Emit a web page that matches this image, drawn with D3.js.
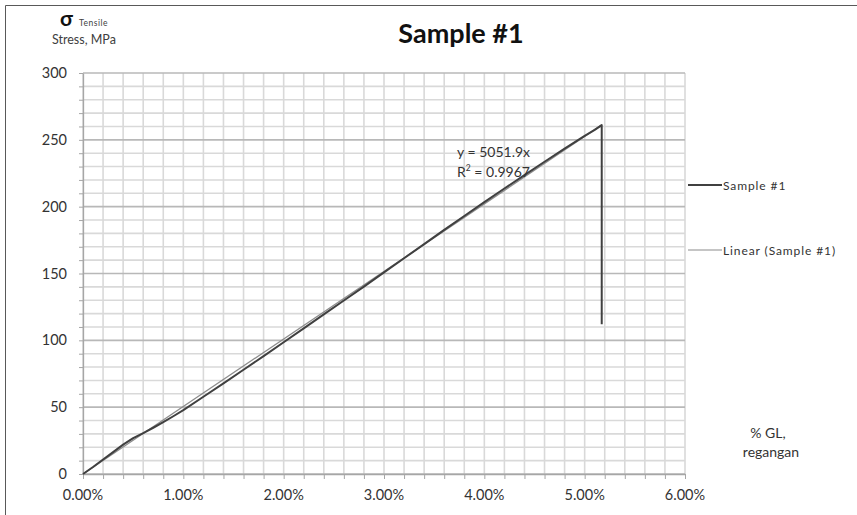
<!DOCTYPE html>
<html>
<head>
<meta charset="utf-8">
<script src="https://cdn.jsdelivr.net/npm/d3@7"></script>
<style>
  html, body { margin: 0; padding: 0; background: #fff; }
  svg { display: block; font-family: Lato, "Open Sans", sans-serif; }
</style>
</head>
<body>
<svg id="chart" width="857" height="515"></svg>
<script>
// Tensile test, sample #1: strain (fraction of gauge length) vs stress (MPa)
const strain = [0, 0.001, 0.002, 0.003, 0.004, 0.005, 0.006, 0.007, 0.008, 0.009, 0.010,
  0.012, 0.014, 0.016, 0.018, 0.020, 0.022, 0.024, 0.026, 0.028, 0.030, 0.032, 0.034,
  0.036, 0.038, 0.040, 0.042, 0.044, 0.046, 0.048, 0.050, 0.051, 0.0517, 0.0517];
const stress = [0, 5.2, 10.8, 16.4, 22, 26.8, 30.6, 34.6, 38.8, 43.2, 47.8,
  57.8, 67.8, 78, 88.2, 98.6, 109, 119.4, 129.8, 140.2, 150.8, 161.4, 172,
  182.6, 193, 203.4, 213.6, 223.6, 233.6, 243.4, 253, 257.4, 261, 112];

// Linear trendline through the origin
const trendSlope = 5051.9;
const trendR2 = 0.9967;

const xTicks = [0, 0.01, 0.02, 0.03, 0.04, 0.05, 0.06];
const yTicks = [0, 50, 100, 150, 200, 250, 300];
const xMinor = d3.range(0, 0.0601, 0.002);
const yMinor = d3.range(0, 301, 10);

const seriesName = "Sample #1";
const trendName = "Linear (Sample #1)";

const svg = d3.select("#chart");
const x = d3.scaleLinear().domain([0, 0.06]).range([83, 685]);
const y = d3.scaleLinear().domain([0, 300]).range([474, 73]);

// chart frame (left and top edges)
svg.append("path")
  .attr("d", "M5.5,515 L5.5,5.5 L857,5.5")
  .attr("fill", "none").attr("stroke", "#595959").attr("stroke-width", 1);

// minor grid
const grid = svg.append("g");
grid.selectAll("line.vx").data(xMinor).join("line")
  .attr("x1", d => x(d)).attr("x2", d => x(d))
  .attr("y1", y(0)).attr("y2", y(300))
  .attr("stroke", "#d9d9d9").attr("stroke-width", 1.6);
grid.selectAll("line.hy").data(yMinor.filter(v => v % 50 !== 0)).join("line")
  .attr("x1", x(0)).attr("x2", x(0.06))
  .attr("y1", d => y(d)).attr("y2", d => y(d))
  .attr("stroke", "#d9d9d9").attr("stroke-width", 1.6);
// major horizontal grid
grid.selectAll("line.hmaj").data(yTicks).join("line")
  .attr("x1", x(0)).attr("x2", x(0.06))
  .attr("y1", d => y(d)).attr("y2", d => y(d))
  .attr("stroke", "#b8b8b8").attr("stroke-width", 1.6);

// axes with minor tick marks
const xAxis = svg.append("g").attr("transform", `translate(0,${y(0)})`)
  .call(d3.axisBottom(x).tickValues(xMinor).tickSize(5).tickFormat("").tickSizeOuter(0));
const yAxis = svg.append("g").attr("transform", `translate(${x(0)},0)`)
  .call(d3.axisLeft(y).tickValues(yMinor).tickSize(4).tickFormat("").tickSizeOuter(0));
[xAxis, yAxis].forEach(g => {
  g.select(".domain").attr("stroke", "#a6a6a6").attr("stroke-width", 1.3);
  g.selectAll(".tick line").attr("stroke", "#a6a6a6");
});

// tick labels
svg.append("g").selectAll("text").data(xTicks).join("text")
  .attr("x", d => x(d)).attr("y", 500)
  .attr("text-anchor", "middle").attr("font-size", 14.5).attr("fill", "#333")
  .text(d => d3.format(".2%")(d));
svg.append("g").selectAll("text").data(yTicks).join("text")
  .attr("x", 67).attr("y", d => y(d) + 5)
  .attr("text-anchor", "end").attr("font-size", 14.5).attr("fill", "#333")
  .text(d => d);

// trendline over the data range
const xMax = d3.max(strain);
svg.append("line")
  .attr("x1", x(0)).attr("y1", y(0))
  .attr("x2", x(xMax)).attr("y2", y(trendSlope * xMax))
  .attr("stroke", "#8c8c8c").attr("stroke-width", 1.3);

// measured curve
const pts = strain.map((s, i) => [s, stress[i]]);
svg.append("path")
  .attr("d", d3.line().x(d => x(d[0])).y(d => y(d[1]))(pts))
  .attr("fill", "none").attr("stroke", "#404040").attr("stroke-width", 2)
  .attr("stroke-linejoin", "round");

// trendline equation
svg.append("text").attr("x", 457).attr("y", 157)
  .attr("font-size", 14).attr("fill", "#333")
  .text(`y = ${trendSlope}x`);
const r2 = svg.append("text").attr("x", 457).attr("y", 177)
  .attr("font-size", 14).attr("fill", "#333");
r2.append("tspan").text("R");
r2.append("tspan").attr("font-size", 8.5).attr("dy", -6).text("2");
r2.append("tspan").attr("dy", 6).text(` = ${trendR2}`);

// title
svg.append("text").attr("x", 461).attr("y", 43)
  .attr("text-anchor", "middle").attr("font-size", 27).attr("font-weight", "bold")
  .attr("fill", "#111").text(seriesName);

// y-axis caption
svg.append("text").attr("x", 60).attr("y", 26)
  .attr("font-size", 21).attr("font-weight", "bold").attr("fill", "#111").text("σ");
svg.append("text").attr("x", 79).attr("y", 26)
  .attr("font-size", 8.5).attr("letter-spacing", 0.5).attr("fill", "#404040").text("Tensile");
svg.append("text").attr("x", 52).attr("y", 44)
  .attr("font-size", 12.5).attr("fill", "#404040")
  .text("Stress, MPa");

// x-axis caption
svg.append("text").attr("x", 768).attr("y", 438)
  .attr("text-anchor", "middle").attr("font-size", 14).attr("fill", "#333").text("% GL,");
svg.append("text").attr("x", 771).attr("y", 457)
  .attr("text-anchor", "middle").attr("font-size", 14).attr("fill", "#333").text("regangan");

// legend
const legend = [
  { name: seriesName, y: 185, w: 2, c: "#404040" },
  { name: trendName, y: 250, w: 1.1, c: "#8c8c8c" }
];
const lg = svg.append("g").selectAll("g").data(legend).join("g");
lg.append("line").attr("x1", 688).attr("x2", 722)
  .attr("y1", d => d.y).attr("y2", d => d.y)
  .attr("stroke", d => d.c).attr("stroke-width", d => d.w);
lg.append("text").attr("x", 723).attr("y", d => d.y + 4.5)
  .attr("font-size", 12).attr("fill", "#333").attr("letter-spacing", 0.9)
  .text(d => d.name);
</script>
</body>
</html>
